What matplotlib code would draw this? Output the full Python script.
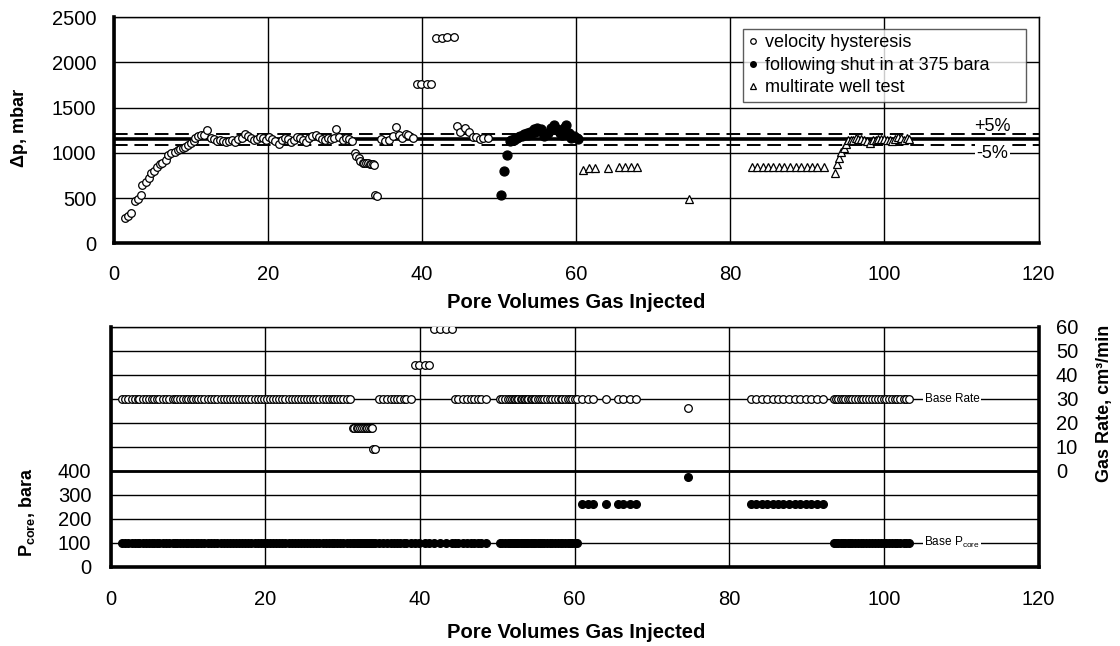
import matplotlib
matplotlib.use("Agg")
import matplotlib.pyplot as plt
from matplotlib.lines import Line2D

plt.rcParams['font.family'] = ['Liberation Sans', 'DejaVu Sans']
plt.rcParams['mathtext.fontset'] = 'custom'
plt.rcParams['mathtext.rm'] = 'Liberation Sans'
plt.rcParams['mathtext.bf'] = 'Liberation Sans:bold'

# ---- data ----
# velocity hysteresis (open circles)
hyst_pv = [1.5, 1.85, 2.3, 2.8, 3.2, 3.5, 3.7, 4.2, 4.6, 4.9, 5.3, 5.6, 6.0, 6.3, 6.8,
           7.1, 7.5, 8.0, 8.3, 8.6, 9.0, 9.3, 9.7, 10.0, 10.4, 10.6, 11.0, 11.3, 11.7, 12.1,
           12.6, 13.0, 13.4, 13.8, 14.2, 14.6, 15.0, 15.4, 15.8, 16.2, 16.6, 17.0, 17.4, 17.8,
           18.2, 18.6, 19.0, 19.4, 19.8, 20.2, 20.6, 21.0, 21.4, 21.8, 22.2, 22.6, 23.0, 23.4,
           23.8, 24.2, 24.6, 25.0, 25.4, 25.8, 26.2, 26.6, 27.0, 27.4, 27.8, 28.2, 28.6, 28.9,
           29.3, 29.7, 30.1, 30.5, 30.9,
           31.3, 31.5, 31.8, 32.0, 32.3, 32.5, 32.8, 33.0, 33.2, 33.4, 33.6, 33.8, 33.9, 34.2,
           34.7, 35.2, 35.7, 36.2, 36.6, 37.0, 37.4, 37.9, 38.2, 38.8,
           39.3, 39.9, 40.6, 41.2, 41.8, 42.6, 43.3, 44.1,
           44.5, 44.9, 45.6, 46.1, 46.6, 47.0, 47.5, 47.9, 48.6]
hyst_dp = [277, 302, 332, 468, 487, 535, 645, 682, 719, 774, 804, 848, 878, 892, 922,
           977, 996, 1014, 1032, 1043, 1058, 1069, 1088, 1114, 1136, 1161, 1187, 1198, 1198, 1254,
           1170, 1150, 1130, 1140, 1130, 1120, 1135, 1145, 1125, 1150, 1170, 1210, 1190, 1160,
           1140, 1150, 1180, 1170, 1140, 1180, 1150, 1130, 1100, 1140, 1160, 1150, 1120, 1140,
           1180, 1160, 1140, 1120, 1170, 1190, 1200, 1180, 1150, 1140, 1160, 1150, 1170, 1260,
           1180, 1140, 1170, 1150, 1130,
           996, 966, 940, 911, 892, 885, 885, 885, 880, 878, 875, 867, 535, 524,
           1151, 1136, 1143, 1187, 1290, 1198, 1161, 1210, 1198, 1161,
           1763, 1763, 1763, 1763, 2268, 2268, 2279, 2279,
           1298, 1235, 1272, 1235, 1180, 1172, 1150, 1161, 1169]
hyst_rate = [30] * 77 + [18] * 12 + [9] * 2 + [30] * 10 + [44] * 4 + [59] * 4 + [30] * 9
hyst_pcore = [100] * 118

# following shut in at 375 bara (filled circles)
shut_pv = [50.3, 50.6, 51.0, 51.4, 51.6, 51.9, 52.1, 52.3, 52.5, 52.7, 53.0, 53.2, 53.4,
           53.6, 53.8, 54.0, 54.3, 54.5, 54.7, 54.9, 55.2, 55.5, 55.8, 56.0, 56.4, 56.8,
           57.1, 57.5, 57.9, 58.2, 58.4, 58.7, 59.1, 59.4, 59.7, 60.1, 60.3]
shut_dp = [537, 796, 974, 1130, 1140, 1148, 1160, 1167, 1175, 1185, 1190, 1204, 1195,
           1215, 1200, 1230, 1215, 1259, 1230, 1278, 1241, 1259, 1190, 1204, 1222, 1278,
           1304, 1259, 1222, 1200, 1278, 1304, 1222, 1160, 1185, 1167, 1150]
shut_rate = [30] * 37
shut_pcore = [100] * 37

# multirate well test (triangles)
well_pv = [60.9, 61.7, 62.4, 64.1, 65.6, 66.3, 67.1, 67.9,
           74.6,
           82.8, 83.5, 84.2, 84.9, 85.6, 86.3, 87.0, 87.7, 88.5, 89.2, 89.9, 90.6, 91.3, 92.1,
           93.6, 93.8, 94.1, 94.4, 94.7, 95.0, 95.3, 95.6, 95.9, 96.3, 96.6, 97.0, 97.3, 97.7,
           98.1, 98.5, 98.9, 99.2, 99.6, 100.0, 100.3, 100.7, 101.0, 101.4, 101.7, 102.1,
           102.6, 102.9, 103.2]
well_dp = [807, 833, 833, 833, 844, 844, 844, 844,
           493,
           844, 844, 844, 844, 844, 844, 844, 844, 844, 844, 844, 844, 844, 844,
           778, 881, 944, 1007, 1056, 1093, 1148, 1140, 1148, 1160, 1156, 1150, 1141, 1130,
           1104, 1140, 1148, 1150, 1156, 1150, 1148, 1140, 1130, 1150, 1178, 1167, 1148,
           1160, 1150]
well_rate = [30] * 8 + [26] + [30] * 14 + [30] * 29
well_pcore = [262] * 8 + [375] + [262] * 14 + [100] * 29

base_dp = 1150
band_hi = 1207.5
band_lo = 1092.5

fig = plt.figure(figsize=(11.2, 6.46), dpi=100)
W, H = 1120, 646

def px_axes(l, t, r, b):
    return fig.add_axes([l / W, 1 - b / H, (r - l) / W, (b - t) / H])

# ---------------- top panel ----------------
ax1 = px_axes(113.6, 17.3, 1038.6, 243.3)
ax1.set_xlim(0, 120)
ax1.set_ylim(0, 2500)
ax1.set_xticks(range(0, 121, 20))
ax1.set_yticks(range(0, 2501, 500))
ax1.grid(True, color='black', lw=1.0)
ax1.set_axisbelow(True)
ax1.tick_params(length=0, labelsize=14.5)
ax1.tick_params(axis='y', pad=12.5)
ax1.tick_params(axis='x', pad=15.5)
for s in ['left', 'bottom']:
    ax1.spines[s].set_linewidth(2.6)
for s in ['top', 'right']:
    ax1.spines[s].set_linewidth(1.0)

ax1.axhline(base_dp, color='black', lw=2.6, zorder=2)
ax1.axhline(band_hi, color='black', lw=1.4, ls=(0, (7, 3.5)), zorder=2)
ax1.axhline(band_lo, color='black', lw=1.4, ls=(0, (7, 3.5)), zorder=2)
ax1.text(114, 1290, '+5%', fontsize=13, ha='center', va='center', zorder=4)
ax1.text(114, 993, '-5%', fontsize=13, ha='center', va='center', zorder=4,
         bbox=dict(facecolor='white', edgecolor='none', pad=1))

ax1.plot(hyst_pv, hyst_dp, 'o', ms=5.5, mfc='white', mec='black', mew=0.9, zorder=3)
ax1.plot(shut_pv, shut_dp, 'o', ms=6.5, mfc='black', mec='black', mew=0.9, zorder=3)
ax1.plot(well_pv, well_dp, '^', ms=6, mfc='white', mec='black', mew=0.9, zorder=3)

handles = [Line2D([], [], ls='none', marker='o', ms=4, mfc='white', mec='black', mew=0.9),
           Line2D([], [], ls='none', marker='o', ms=4, mfc='black', mec='black'),
           Line2D([], [], ls='none', marker='^', ms=4.5, mfc='white', mec='black', mew=0.9)]
labels = ['velocity hysteresis', 'following shut in at 375 bara', 'multirate well test']
leg = ax1.legend(handles, labels, loc='upper left', bbox_to_anchor=(0.680, 0.848, 0.306, 0.1),
                 mode='expand', fontsize=13, frameon=True, fancybox=False,
                 handlelength=0.6, handletextpad=0.35, labelspacing=0.3,
                 borderpad=0.3, borderaxespad=0)
leg.get_frame().set_edgecolor('#333333')
leg.get_frame().set_linewidth(1.0)
leg.set_zorder(5)

fig.text(576 / W, 1 - 302 / H, 'Pore Volumes Gas Injected', fontsize=14.5,
         fontweight='bold', ha='center', va='center')
fig.text(20 / W, 1 - 128 / H, 'Δp, mbar', fontsize=13, fontweight='bold',
         rotation=90, ha='center', va='center')

# ---------------- bottom panel ----------------
ax2 = px_axes(110.7, 326.7, 1038.6, 566.7)
ax2.set_xlim(0, 120)
ax2.set_ylim(0, 1000)
ax2.set_xticks(range(0, 121, 20))
ax2.set_yticks(range(0, 1001, 100))
ax2.set_yticklabels(['0', '100', '200', '300', '400'] + [''] * 6)
ax2.grid(True, color='black', lw=1.0)
ax2.set_axisbelow(True)
ax2.tick_params(length=0, labelsize=14.5)
ax2.tick_params(axis='y', pad=14)
ax2.tick_params(axis='x', pad=17)
ax2.axhline(400, color='black', lw=2.0, zorder=1)
for s in ['left', 'bottom', 'right']:
    ax2.spines[s].set_linewidth(2.6)
ax2.spines['top'].set_linewidth(1.0)

ax2.plot(hyst_pv, hyst_pcore, 'o', ms=5.5, mfc='black', mec='black', zorder=3)
ax2.plot(shut_pv, shut_pcore, 'o', ms=5.5, mfc='black', mec='black', zorder=3)
ax2.plot(well_pv, well_pcore, 'o', ms=5.5, mfc='black', mec='black', zorder=3)
ax2.text(108.8, 100, 'Base P$_{\\rm core}$', fontsize=8.5, ha='center', va='center',
         zorder=4, bbox=dict(facecolor='white', edgecolor='none', pad=1))

ax3 = ax2.twinx()
ax3.set_ylim(-40, 60)
ax3.set_yticks(range(0, 61, 10))
ax3.tick_params(length=0, labelsize=14.5, pad=12.5)
for s in ax3.spines.values():
    s.set_visible(False)
ax3.plot(hyst_pv, hyst_rate, 'o', ms=5.5, mfc='white', mec='black', mew=0.9, zorder=3)
ax3.plot(shut_pv, shut_rate, 'o', ms=5.5, mfc='white', mec='black', mew=0.9, zorder=3)
ax3.plot(well_pv, well_rate, 'o', ms=5.5, mfc='white', mec='black', mew=0.9, zorder=3)
ax3.text(108.8, 30, 'Base Rate', fontsize=8.5, ha='center', va='center', zorder=4,
         bbox=dict(facecolor='white', edgecolor='none', pad=1))

fig.text(576 / W, 1 - 632 / H, 'Pore Volumes Gas Injected', fontsize=14.5,
         fontweight='bold', ha='center', va='center')
fig.text(27 / W, 1 - 512 / H, 'P$_{\\bf core}$, bara', fontsize=13, fontweight='bold',
         rotation=90, ha='center', va='center')
fig.text(1105 / W, 1 - 403 / H, 'Gas Rate, cm³/min', fontsize=13, fontweight='bold',
         rotation=90, ha='center', va='center')

fig.savefig('out.png', dpi=100)
